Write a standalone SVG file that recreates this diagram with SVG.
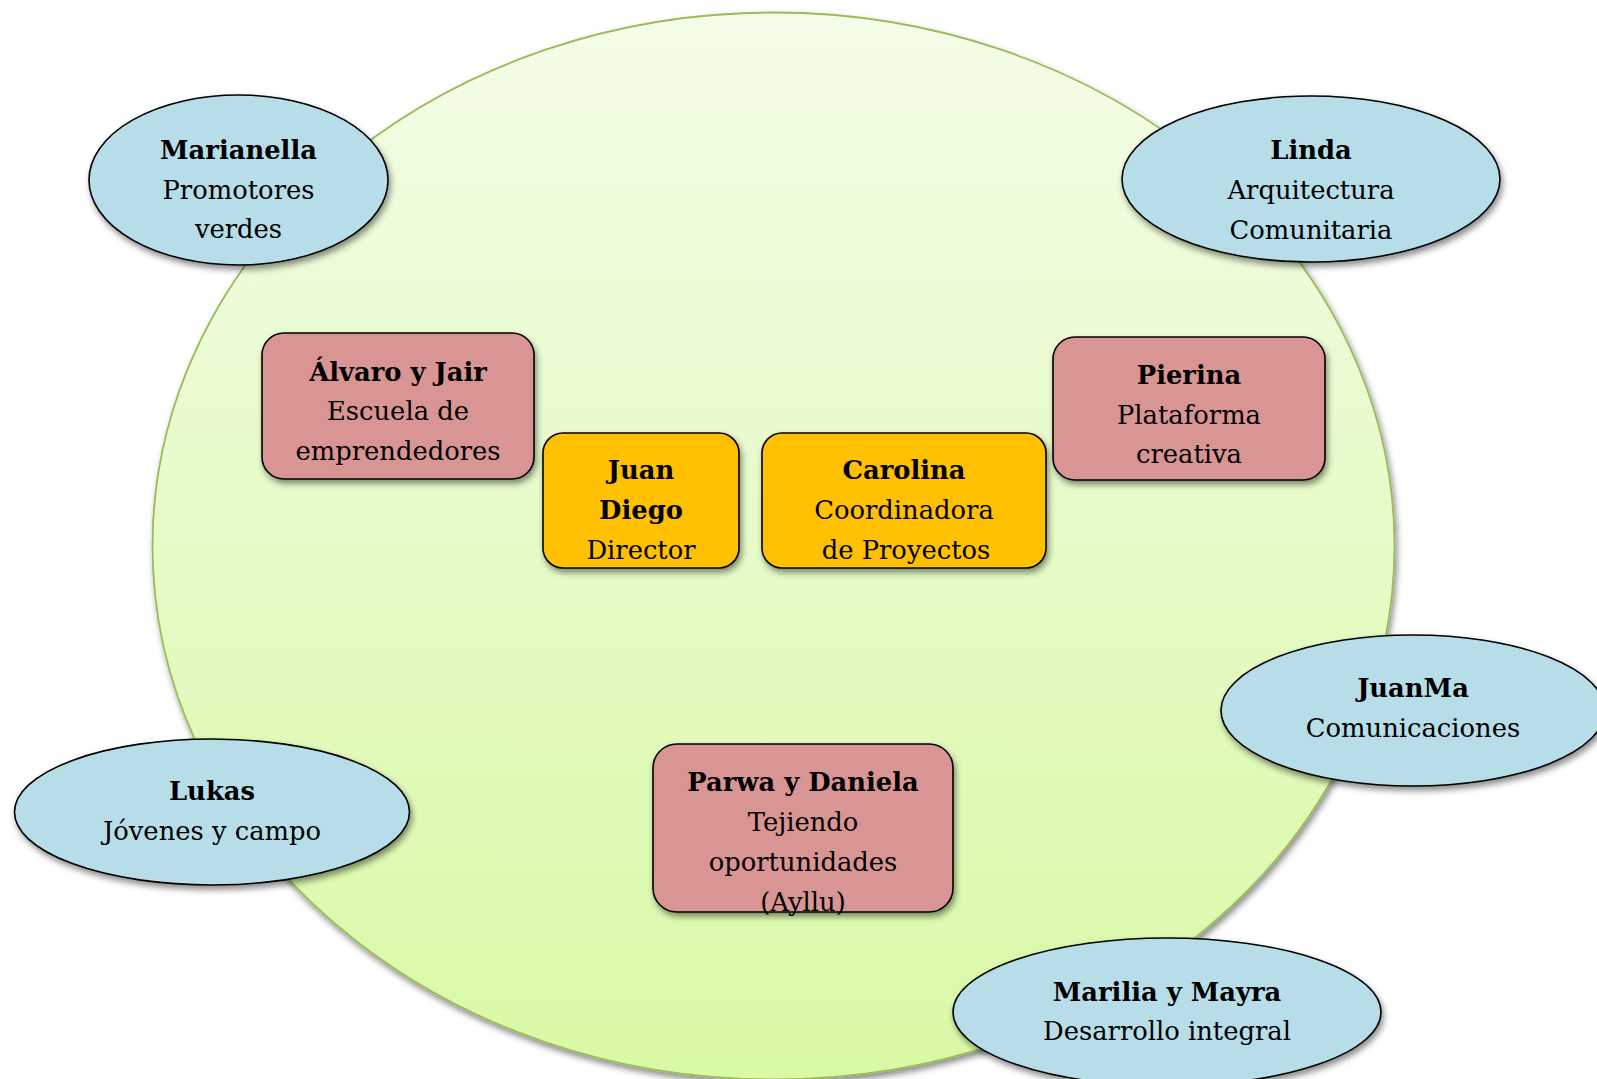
<svg xmlns="http://www.w3.org/2000/svg" width="1597" height="1079" viewBox="0 0 1597 1079">
<defs>
<linearGradient id="bg" x1="0" y1="0" x2="0" y2="1">
<stop offset="0" stop-color="#F4FDE8"/>
<stop offset="1" stop-color="#D8F9A5"/>
</linearGradient>
<filter id="sh" x="-20%" y="-20%" width="140%" height="150%">
<feDropShadow dx="2" dy="4" stdDeviation="3" flood-color="#000" flood-opacity="0.45"/>
</filter>
</defs>
<style>
text{font-family:"DejaVu Serif","Liberation Serif",serif;font-size:25.8px;fill:#000;text-anchor:middle}
.b{font-weight:bold}
.ell{fill:#B7DDE8;stroke:#000;stroke-width:1.6;filter:url(#sh)}
.red{fill:#D99594;stroke:#000;stroke-width:1.6;filter:url(#sh)}
.org{fill:#FFC000;stroke:#000;stroke-width:1.6;filter:url(#sh)}
</style>
<rect width="1597" height="1079" fill="#fff"/>
<g id="circle">
<ellipse cx="773.5" cy="546" rx="621" ry="533.5" fill="url(#bg)" stroke="#9BBB59" stroke-width="1.8" filter="url(#sh)"/>
</g>
<g id="connectors"></g>
<g id="marianella">
<ellipse class="ell" cx="238.5" cy="180" rx="149.5" ry="85"/>
<text class="b" x="238.5" y="159">Marianella</text>
<text x="238.5" y="199">Promotores</text>
<text x="238.5" y="238">verdes</text>
</g>
<g id="linda">
<ellipse class="ell" cx="1311" cy="179" rx="189" ry="83"/>
<text class="b" x="1311" y="159">Linda</text>
<text x="1311" y="199">Arquitectura</text>
<text x="1311" y="239">Comunitaria</text>
</g>
<g id="juanma">
<ellipse class="ell" cx="1413" cy="710.5" rx="192" ry="75.5"/>
<text class="b" x="1413" y="697">JuanMa</text>
<text x="1413" y="737">Comunicaciones</text>
</g>
<g id="lukas">
<ellipse class="ell" cx="212" cy="812" rx="197.5" ry="73"/>
<text class="b" x="212" y="800">Lukas</text>
<text x="212" y="840">Jóvenes y campo</text>
</g>
<g id="marilia">
<ellipse class="ell" cx="1167" cy="1012" rx="214" ry="74"/>
<text class="b" x="1167" y="1001">Marilia y Mayra</text>
<text x="1167" y="1040">Desarrollo integral</text>
</g>
<g id="alvaro">
<rect class="red" x="262" y="333" width="272" height="146" rx="22"/>
<text class="b" x="398" y="381">Álvaro y Jair</text>
<text x="398" y="420">Escuela de</text>
<text x="398" y="460">emprendedores</text>
</g>
<g id="pierina">
<rect class="red" x="1053" y="337" width="272" height="143" rx="22"/>
<text class="b" x="1189" y="384">Pierina</text>
<text x="1189" y="424">Plataforma</text>
<text x="1189" y="463">creativa</text>
</g>
<g id="juandiego">
<rect class="org" x="543" y="433" width="196" height="135" rx="20"/>
<text class="b" x="641" y="479">Juan</text>
<text class="b" x="641" y="519">Diego</text>
<text x="641" y="559">Director</text>
</g>
<g id="carolina">
<rect class="org" x="762" y="433" width="284" height="135" rx="20"/>
<text class="b" x="904" y="479">Carolina</text>
<text x="904" y="519">Coordinadora</text>
<text x="906" y="559">de Proyectos</text>
</g>
<g id="parwa">
<rect class="red" x="653" y="744" width="300" height="168" rx="24"/>
<text class="b" x="803" y="791">Parwa y Daniela</text>
<text x="803" y="831">Tejiendo</text>
<text x="803" y="871">oportunidades</text>
<text x="803" y="911">(Ayllu)</text>
</g>
</svg>
